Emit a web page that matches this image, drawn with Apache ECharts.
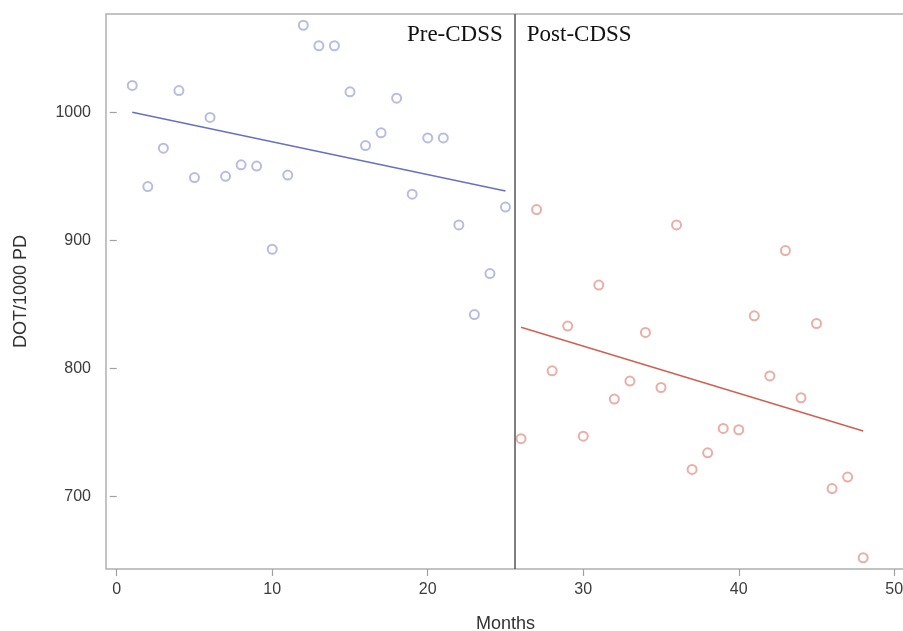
<!DOCTYPE html>
<html>
<head>
<meta charset="utf-8">
<script src="https://cdn.jsdelivr.net/npm/echarts@6/dist/echarts.min.js"></script>
<style>
html, body { margin: 0; padding: 0; background: #fff; }
#main { width: 903px; height: 631px; }
</style>
</head>
<body>
<div id="main"></div>
<script>
var myChart = echarts.init(document.getElementById('main'));

// months 1..25 before the CDSS, 26..48 after
var preMonths = [1, 2, 3, 4, 5, 6, 7, 8, 9, 10, 11, 12, 13, 14, 15, 16, 17, 18, 19, 20, 21, 22, 23, 24, 25];
var preDot = [1021, 942, 972, 1017, 949, 996, 950, 959, 958, 893, 951, 1068, 1052, 1052, 1016,
    974, 984, 1011, 936, 980, 980, 912, 842, 874, 926];
var postMonths = [26, 27, 28, 29, 30, 31, 32, 33, 34, 35, 36, 37, 38, 39, 40, 41, 42, 43, 44, 45, 46, 47, 48];
var postDot = [745, 924, 798, 833, 747, 865, 776, 790, 828, 785, 912, 721, 734, 753, 752,
    841, 794, 892, 777, 835, 706, 715, 652];

// fitted trend lines (end points)
var preFitX = [1, 25];
var preFitY = [1000, 938.5];
var postFitX = [26, 48];
var postFitY = [832, 751];

var splitMonth = 25.6;
var xTicks = [0, 10, 20, 30, 40, 50];
var yTicks = [700, 800, 900, 1000];

function pairs(xs, ys) {
    var out = [];
    for (var i = 0; i < xs.length; i++) {
        out.push([xs[i], ys[i]]);
    }
    return out;
}

var axisGray = '#b0b0b0';
var labelColor = '#3c3c3c';

option = {
    animation: false,
    grid: {
        left: 106,
        right: -2,
        top: 14,
        bottom: 62,
        outerBoundsMode: 'none',
        containLabel: false,
        show: true,
        borderColor: axisGray,
        borderWidth: 1.5,
        backgroundColor: '#fff'
    },
    xAxis: {
        type: 'value',
        min: -0.688,
        max: 50.69,
        name: 'Months',
        nameLocation: 'middle',
        nameGap: 46,
        nameTextStyle: { fontFamily: 'Liberation Sans', fontSize: 18, color: '#333' },
        axisLine: { show: false },
        axisTick: { show: true, length: 7, customValues: xTicks, lineStyle: { color: '#a0a0a0', width: 1.2 } },
        axisLabel: {
            customValues: xTicks, margin: 13, fontFamily: 'Liberation Sans', fontSize: 16, color: labelColor,
            formatter: function (v) { return String(v); }
        },
        splitLine: { show: false }
    },
    yAxis: {
        type: 'value',
        min: 643.2,
        max: 1076.8,
        name: 'DOT/1000 PD',
        nameLocation: 'middle',
        nameGap: 76,
        nameTextStyle: { fontFamily: 'Liberation Sans', fontSize: 18, color: '#333' },
        axisLine: { show: false },
        axisTick: { show: true, length: 7, customValues: yTicks, lineStyle: { color: '#a0a0a0', width: 1.2 } },
        axisLabel: {
            customValues: yTicks, margin: 15, fontFamily: 'Liberation Sans', fontSize: 16, color: labelColor,
            formatter: function (v) { return String(v); }
        },
        splitLine: { show: false }
    },
    series: [
        {
            type: 'line',
            data: pairs(preFitX, preFitY),
            symbol: 'none',
            lineStyle: { color: '#6870c0', width: 1.5 },
            z: 2,
            markLine: {
                silent: true,
                symbol: 'none',
                label: { show: false },
                lineStyle: { color: '#555', width: 1.5, type: 'solid' },
                data: [{ xAxis: splitMonth }]
            }
        },
        {
            type: 'line',
            data: pairs(postFitX, postFitY),
            symbol: 'none',
            lineStyle: { color: '#d06050', width: 1.5 },
            z: 2
        },
        {
            type: 'scatter',
            data: pairs(preMonths, preDot),
            symbol: 'emptyCircle',
            symbolSize: 9,
            itemStyle: { color: '#a6abdc', borderWidth: 1.5 },
            z: 3
        },
        {
            type: 'scatter',
            data: pairs(postMonths, postDot),
            symbol: 'emptyCircle',
            symbolSize: 9,
            itemStyle: { color: '#e39a92', borderWidth: 1.5 },
            z: 3
        }
    ]
};

myChart.setOption(option);

var splitX = myChart.convertToPixel({ gridIndex: 0 }, [splitMonth, 0])[0];
myChart.setOption({
    graphic: [
        {
            type: 'text',
            x: splitX - 12,
            y: 23,
            style: { text: 'Pre-CDSS', fontFamily: 'Liberation Serif', fontSize: 23, fill: '#111', align: 'right', verticalAlign: 'top' }
        },
        {
            type: 'text',
            x: splitX + 12,
            y: 23,
            style: { text: 'Post-CDSS', fontFamily: 'Liberation Serif', fontSize: 23, fill: '#111', align: 'left', verticalAlign: 'top' }
        }
    ]
});
window.onresize = myChart.resize;
</script>
</body>
</html>
